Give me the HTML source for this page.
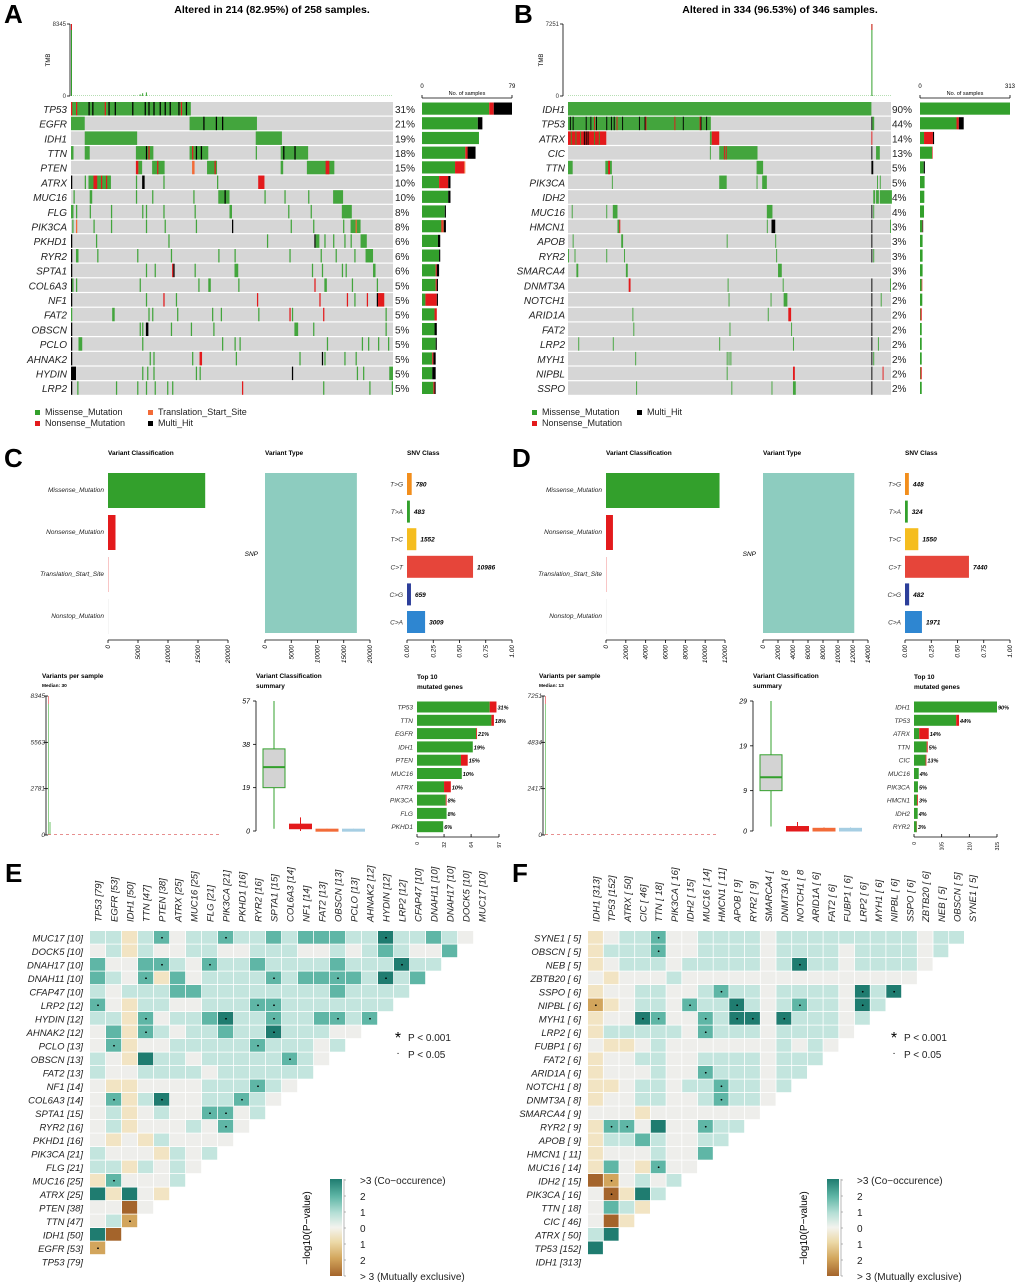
<!DOCTYPE html>
<html><head><meta charset="utf-8"><style>
html,body{margin:0;padding:0;background:#fff;}
svg{display:block;font-family:"Liberation Sans",sans-serif;}
</style></head><body>
<svg id="fig" xmlns="http://www.w3.org/2000/svg" width="1020" height="1286" viewBox="0 0 1020 1286"></svg>
<script>
// ================= DATA =================
const genesA=["TP53","EGFR","IDH1","TTN","PTEN","ATRX","MUC16","FLG","PIK3CA","PKHD1","RYR2","SPTA1","COL6A3","NF1","FAT2","OBSCN","PCLO","AHNAK2","HYDIN","LRP2"];
const pctA=["31%","21%","19%","18%","15%","10%","10%","8%","8%","6%","6%","6%","5%","5%","5%","5%","5%","5%","5%","5%"];
const countsA=[[59,4,16,0],[49,0,4,0],[50,0,0,0],[38,2,7,0],[29,8,0,1],[15,8,2,0],[23,0,2,0],[20,0,1,0],[17,1,2,1],[14,0,2,0],[15,0,1,0],[12,1,2,0],[12,1,1,0],[3,10,1,0],[11,2,0,0],[11,0,2,0],[12,0,1,0],[9,1,2,0],[9,0,3,0],[10,1,1,0]];
const segsA=[
[[0,95,"g"],[14,14,"k"],[17,17,"k"],[30,30,"k"],[35,35,"k"],[49,49,"k"],[59,59,"k"],[62,62,"k"],[66,66,"k"],[71,71,"k"],[75,75,"k"],[79,79,"k"],[86,86,"k"],[92,92,"k"],[0,0,"r"],[4,4,"r"],[27,27,"r"],[88,88,"r"]],
[[0,10,"g"],[95,148,"g"],[106,106,"k"],[116,116,"k"],[121,121,"k"]],
[[11,52,"g"],[148,168,"g"]],
[[0,1,"g"],[11,14,"g"],[52,65,"g"],[60,60,"k"],[62,62,"r"],[95,109,"g"],[97,97,"r"],[100,100,"k"],[104,104,"k"],[148,148,"g"],[168,189,"g"],[170,170,"k"],[179,179,"k"]],
[[52,53,"r"],[54,56,"g"],[65,74,"g"],[69,69,"r"],[97,98,"o"],[109,116,"g"],[115,115,"r"],[168,169,"g"],[189,210,"g"],[204,206,"r"]],
[[0,0,"k"],[11,11,"g"],[14,31,"g"],[18,20,"r"],[24,24,"r"],[28,28,"r"],[52,52,"g"],[57,58,"k"],[74,74,"g"],[117,117,"g"],[150,154,"r"]],
[[2,2,"g"],[15,16,"g"],[52,52,"g"],[65,65,"g"],[98,98,"g"],[118,126,"g"],[123,123,"k"],[155,155,"g"],[171,171,"g"],[190,190,"g"],[210,217,"g"]],
[[0,1,"g"],[4,4,"g"],[15,15,"g"],[32,32,"g"],[57,57,"g"],[60,60,"g"],[74,74,"g"],[99,99,"g"],[127,128,"g"],[174,174,"g"],[192,192,"g"],[217,224,"g"]],
[[1,1,"g"],[4,4,"o"],[18,18,"g"],[32,32,"g"],[60,60,"g"],[75,75,"g"],[100,100,"g"],[129,129,"k"],[176,176,"g"],[194,194,"g"],[218,218,"g"],[224,231,"g"],[228,228,"o"]],
[[0,0,"k"],[20,20,"g"],[78,78,"g"],[157,157,"g"],[195,195,"k"],[196,198,"g"],[203,203,"g"],[210,210,"g"],[219,219,"g"],[224,224,"g"],[232,236,"g"]],
[[0,0,"k"],[4,5,"g"],[21,21,"g"],[53,53,"g"],[80,80,"g"],[118,118,"g"],[131,131,"g"],[175,175,"g"],[200,200,"g"],[212,212,"g"],[227,227,"g"],[236,241,"g"]],
[[0,0,"k"],[60,60,"g"],[67,67,"g"],[81,81,"r"],[82,82,"k"],[99,99,"g"],[131,133,"g"],[193,193,"g"],[201,201,"g"],[217,217,"g"],[220,220,"g"],[242,243,"g"]],
[[0,0,"k"],[1,1,"g"],[4,4,"g"],[55,55,"g"],[102,102,"g"],[110,111,"g"],[134,134,"g"],[195,195,"r"],[203,204,"g"],[225,225,"g"],[245,245,"g"]],
[[0,0,"k"],[60,60,"g"],[74,74,"r"],[84,84,"g"],[149,149,"r"],[199,199,"r"],[221,221,"r"],[227,227,"g"],[237,237,"r"],[245,245,"k"],[246,250,"r"]],
[[0,0,"g"],[33,34,"g"],[62,62,"g"],[65,65,"g"],[85,85,"g"],[113,113,"g"],[120,120,"g"],[150,150,"g"],[175,175,"r"],[177,177,"g"],[202,202,"r"],[252,252,"g"]],
[[0,0,"k"],[55,55,"g"],[57,57,"g"],[60,61,"k"],[80,80,"g"],[96,96,"g"],[114,114,"g"],[179,181,"g"],[194,194,"g"],[252,252,"g"]],
[[0,0,"k"],[6,8,"g"],[57,57,"g"],[121,121,"g"],[131,131,"g"],[135,135,"g"],[205,205,"g"],[233,233,"g"],[238,238,"g"],[246,246,"g"],[254,254,"g"]],
[[0,0,"k"],[63,63,"g"],[66,66,"g"],[97,97,"g"],[103,104,"r"],[132,132,"g"],[183,183,"g"],[201,201,"k"],[203,203,"g"],[219,219,"g"],[228,228,"g"]],
[[0,3,"k"],[57,57,"g"],[61,61,"g"],[66,66,"g"],[100,100,"g"],[103,103,"g"],[177,177,"k"],[229,229,"g"],[234,234,"g"],[255,257,"g"]],
[[0,0,"k"],[5,5,"g"],[36,36,"g"],[53,53,"g"],[60,60,"g"],[67,67,"g"],[77,77,"g"],[81,81,"g"],[137,137,"r"],[202,202,"g"],[239,239,"g"],[257,257,"g"]]
];
const tmbA=[[0,8345],[50,60],[55,180],[57,320],[60,420]];
const genesB=["IDH1","TP53","ATRX","CIC","TTN","PIK3CA","IDH2","MUC16","HMCN1","APOB","RYR2","SMARCA4","DNMT3A","NOTCH1","ARID1A","FAT2","LRP2","MYH1","NIPBL","SSPO"];
const pctB=["90%","44%","14%","13%","5%","5%","4%","4%","3%","3%","3%","3%","2%","2%","2%","2%","2%","2%","2%","2%"];
const countsB=[[313,0,0,0],[127,8,17,0],[14,31,4,0],[42,2,0,0],[13,0,4,0],[16,0,0,0],[15,0,0,0],[14,0,0,0],[8,1,2,0],[9,0,0,0],[9,0,0,0],[9,0,0,0],[6,2,0,0],[8,0,0,0],[2,4,0,0],[6,0,0,0],[6,0,0,0],[6,0,0,0],[2,4,0,0],[6,0,0,0]];
const segsB=[
[[0,324,"g"]],
[[0,152,"g"],[2,2,"k"],[5,5,"k"],[19,19,"k"],[24,24,"k"],[30,30,"k"],[41,41,"k"],[46,46,"k"],[49,49,"k"],[58,58,"k"],[76,76,"k"],[82,82,"k"],[123,123,"k"],[142,142,"k"],[148,148,"k"],[28,28,"r"],[52,52,"r"],[83,83,"r"],[114,114,"r"],[141,141,"r"],[325,325,"k"],[326,327,"g"]],
[[0,40,"r"],[3,3,"g"],[8,8,"g"],[13,13,"g"],[17,17,"k"],[19,19,"k"],[21,21,"k"],[28,28,"g"],[33,33,"g"],[152,153,"g"],[154,161,"r"],[325,325,"r"]],
[[152,152,"g"],[162,202,"g"],[167,167,"r"],[169,169,"r"],[325,325,"k"],[330,333,"g"]],
[[0,4,"g"],[40,46,"g"],[43,44,"r"],[202,208,"g"],[325,326,"k"]],
[[47,47,"g"],[162,169,"g"],[202,202,"g"],[208,212,"g"],[331,331,"g"],[334,334,"g"]],
[[327,328,"g"],[330,332,"g"],[334,346,"g"]],
[[4,4,"g"],[41,41,"g"],[48,52,"g"],[213,218,"g"],[325,325,"k"],[327,327,"g"]],
[[53,54,"g"],[55,55,"r"],[213,213,"g"],[218,221,"k"],[325,325,"k"],[345,345,"g"]],
[[5,5,"g"],[57,58,"g"],[170,170,"g"],[222,222,"g"],[325,325,"k"]],
[[0,0,"g"],[7,7,"g"],[41,41,"g"],[60,60,"g"],[223,223,"g"],[325,325,"k"],[327,327,"g"]],
[[9,10,"g"],[62,63,"g"],[225,228,"g"]],
[[65,66,"r"],[171,171,"g"],[230,230,"g"],[325,325,"k"],[345,345,"g"]],
[[172,172,"g"],[217,217,"g"],[231,234,"g"],[325,325,"k"],[335,335,"g"]],
[[69,69,"g"],[214,214,"g"],[236,238,"r"],[325,325,"k"]],
[[70,70,"g"],[173,173,"g"],[239,239,"g"],[325,325,"k"]],
[[11,11,"g"],[48,48,"g"],[162,162,"g"],[241,241,"g"],[325,325,"k"],[332,332,"g"]],
[[72,72,"g"],[170,170,"g"],[172,172,"g"],[174,174,"g"],[325,325,"k"],[327,327,"g"]],
[[170,170,"g"],[241,242,"r"],[325,325,"k"],[337,337,"r"]],
[[73,73,"g"],[175,175,"g"],[218,218,"g"],[241,243,"g"],[325,325,"k"]]
];
const tmbB=[[325,7251],[326,40]];

const vcCats=["Missense_Mutation","Nonsense_Mutation","Translation_Start_Site","Nonstop_Mutation"];
const vcValsC=[16200,1250,60,0];
const vcValsD=[11450,700,40,0];
const vcTicksC=[0,5000,10000,15000,20000];
const vcTicksD=[0,2000,4000,6000,8000,10000,12000];
const vtValC=[17500];
const vtValD=[12170];
const vtTicksC=[0,5000,10000,15000,20000];
const vtTicksD=[0,2000,4000,6000,8000,10000,12000,14000];
const snvCats=["T>G","T>A","T>C","C>T","C>G","C>A"];
const snvValsC=[780,483,1552,10986,659,3009];
const snvValsD=[448,324,1550,7440,482,1971];
const snvTicks=["0.00","0.25","0.50","0.75","1.00"];
const vpsTicksC=[0,2781,5563,8345];
const vpsTicksD=[0,2417,4834,7251];
const boxC=[[1,19,28,36,57],[0,1,2,3,6],[0,0,0.3,0.8,1],[0,0,0.3,0.8,1]];
const boxD=[[1,9,12,17,29],[0,0,0.3,1,2],[0,0,0.2,0.6,0.8],[0,0,0.2,0.6,0.8]];
const boxTicksC=[0,19,38,57];
const boxTicksD=[0,9,19,29];
const top10C=["TP53","TTN","EGFR","IDH1","PTEN","MUC16","ATRX","PIK3CA","FLG","PKHD1"];
const top10GreenC=[86,88,70,66,52,53,32,34,35,31];
const top10RedC=[8,3,1,0,8,0,8,1,0,0];
const top10PctC=["31%","18%","21%","19%","15%","10%","10%","8%","8%","6%"];
const top10TicksC=[0,32,64,97];
const top10D=["IDH1","TP53","ATRX","TTN","CIC","MUC16","PIK3CA","HMCN1","IDH2","RYR2"];
const top10GreenD=[315,160,20,48,44,18,15,12,14,10];
const top10RedD=[0,11,36,4,3,0,0,3,0,1];
const top10PctD=["90%","44%","14%","5%","13%","4%","5%","3%","4%","3%"];
const top10TicksD=[0,105,210,315];

const rowsE=["MUC17 [10]","DOCK5 [10]","DNAH17 [10]","DNAH11 [10]","CFAP47 [10]","LRP2 [12]","HYDIN [12]","AHNAK2 [12]","PCLO [13]","OBSCN [13]","FAT2 [13]","NF1 [14]","COL6A3 [14]","SPTA1 [15]","RYR2 [16]","PKHD1 [16]","PIK3CA [21]","FLG [21]","MUC16 [25]","ATRX [25]","PTEN [38]","TTN [47]","IDH1 [50]","EGFR [53]","TP53 [79]"];
const colsE=["TP53 [79]","EGFR [53]","IDH1 [50]","TTN [47]","PTEN [38]","ATRX [25]","MUC16 [25]","FLG [21]","PIK3CA [21]","PKHD1 [16]","RYR2 [16]","SPTA1 [15]","COL6A3 [14]","NF1 [14]","FAT2 [13]","OBSCN [13]","PCLO [13]","AHNAK2 [12]","HYDIN [12]","LRP2 [12]","CFAP47 [10]","DNAH11 [10]","DNAH17 [10]","DOCK5 [10]","MUC17 [10]"];
const matE=[
"1,1,c,1,2*,0,1,1,2*,1,1,2,1,2,2,2,1,1,3*,1,1,2,1,0",
"0,1,c,1,0,0,1,1,0,0,1,1,1,0,0,1,0,1,2,1,0,0,2",
"2,0,0,2,2*,1,0,2*,1,1,2,1,1,1,1,2,1,1,1,3*,1,1",
"2,1,0,2*,c,2,0,1,1,1,1,2*,1,2,2,2*,2,1,3*,1,2",
"1,0,1,1,1,2,2,1,1,1,1,1,1,1,1,2,1,1,1,1",
"2*,0,c,1,1,0,0,1,1,1,2*,2*,1,1,1,1,1,1,1",
"1,1,c,2*,0,1,1,2,3*,1,1,2*,1,1,2,2*,1,2*",
"0,2,c,2*,1,0,1,1,2,1,1,3*,1,1,1,0,0",
"0,2*,c,0,0,1,1,1,1,1,2*,1,1,1,0,1",
"1,0,c,3,1,1,0,1,1,1,1,1,2*,1,0",
"1,0,0,1,1,1,1,0,1,1,1,1,1,1",
"0,c,c,0,0,0,0,1,1,1,2*,1,0",
"0,2*,c,1,3*,0,0,1,1,2*,1,0",
"0,1,c,0,1,0,0,2*,2*,0,1",
"0,1,c,0,0,0,1,0,2*,0",
"0,c,0,c,1,0,0,0,0",
"1,0,0,0,c,1,0,1",
"1,1,c,1,0,1,0",
"c,2*,0,0,0,1",
"3,c,3,0,c",
"0,0,a,0",
"0,1,b*",
"3,a",
"b*",
""];
const rowsF=["SYNE1 [  5]","OBSCN [  5]","NEB [  5]","ZBTB20 [  6]","SSPO [  6]","NIPBL [  6]","MYH1 [  6]","LRP2 [  6]","FUBP1 [  6]","FAT2 [  6]","ARID1A [  6]","NOTCH1 [  8]","DNMT3A [  8]","SMARCA4 [  9]","RYR2 [  9]","APOB [  9]","HMCN1 [ 11]","MUC16 [ 14]","IDH2 [ 15]","PIK3CA [ 16]","TTN [ 18]","CIC [ 46]","ATRX [ 50]","TP53 [152]","IDH1 [313]"];
const colsF=["IDH1 [313]","TP53 [152]","ATRX [ 50]","CIC [ 46]","TTN [ 18]","PIK3CA [ 16]","IDH2 [ 15]","MUC16 [ 14]","HMCN1 [ 11]","APOB [  9]","RYR2 [  9]","SMARCA4 [","DNMT3A [  8","NOTCH1 [  8","ARID1A [  6]","FAT2 [  6]","FUBP1 [  6]","LRP2 [  6]","MYH1 [  6]","NIPBL [  6]","SSPO [  6]","ZBTB20 [  6]","NEB [  5]","OBSCN [  5]","SYNE1 [  5]"];
const matF=[
"c,0,1,1,2*,0,0,1,1,1,1,0,1,1,1,1,1,1,1,1,1,0,1,1",
"c,1,1,1,2*,0,0,1,1,1,1,0,1,1,1,1,0,1,1,1,1,0,1",
"c,0,1,1,1,0,1,1,1,1,1,0,1,3*,1,1,0,1,1,1,1,0",
"0,c,0,0,0,1,0,0,0,0,0,0,0,0,0,0,0,0,0,0,0",
"c,0,0,1,1,0,0,1,2*,1,1,0,1,1,1,1,0,3*,1,3*",
"b*,c,0,1,1,0,2*,1,1,3*,1,0,1,2*,1,1,0,3*,1",
"c,0,0,3*,2*,0,0,2*,1,3*,3*,0,3*,1,1,1,0,1",
"c,1,1,1,1,1,0,2*,1,1,1,0,1,1,1,1,0",
"0,c,c,0,1,0,0,0,0,0,0,0,1,0,1,0",
"c,0,0,1,1,0,0,1,1,1,1,0,1,1,1",
"c,0,0,0,1,0,0,2*,1,1,1,0,1,1",
"c,c,0,1,1,0,1,1,2*,1,1,0,1",
"c,0,0,1,1,0,0,1,2*,1,1,0",
"0,0,0,c,0,0,0,0,0,0,0",
"c,2*,2*,0,3,0,0,2*,1,1",
"c,1,1,2,1,0,0,1,1",
"c,0,0,0,1,0,0,2",
"c,2,0,c,2*,0,0",
"a,b*,0,1,0,1",
"0,a*,c,3,1",
"0,2,1,c",
"0,a,c",
"1,3",
"3",
""];

// ================= DRAWING =================
const NS="http://www.w3.org/2000/svg";
const svg=document.getElementById('fig');
function mk(tag,attrs,parent){const e=document.createElementNS(NS,tag);for(const k in attrs)e.setAttribute(k,attrs[k]);(parent||svg).appendChild(e);return e;}
function tx(x,y,s,size,extra,parent){const e=mk('text',Object.assign({x:x,y:y,'font-size':size,fill:'#000'},extra||{}),parent);e.textContent=s;return e;}
const MUTC={g:'#33a02c',r:'#e31a1c',k:'#000000',o:'#f26b38'};

function panelLetter(x,y,l){
  const t=tx(x,y,l,26,{'font-weight':'bold'});
  
  
}

function oncoplot(c,genes,pcts,segs,counts,tmb,tmbMax,nS,barMax,title){
  const g=mk('g',{});
  
  
  const t=tx(c.titleX,13,title,10.5,{'font-weight':'bold','text-anchor':'middle'},g);
  
  
  const sw=(c.gx1-c.gx0)/nS;
  mk('line',{x1:c.axX,y1:c.tmbTop,x2:c.axX,y2:c.tmbBot,stroke:'#000','stroke-width':0.8},g);
  mk('line',{x1:c.axX-3,y1:c.tmbTop,x2:c.axX,y2:c.tmbTop,stroke:'#000','stroke-width':0.8},g);
  mk('line',{x1:c.axX-3,y1:c.tmbBot,x2:c.axX,y2:c.tmbBot,stroke:'#000','stroke-width':0.8},g);
  tx(c.axX-4,c.tmbTop+2,String(tmbMax),6,{'text-anchor':'end',fill:'#333'},g);
  tx(c.axX-4,c.tmbBot+2,'0',6,{'text-anchor':'end',fill:'#333'},g);
  const tl=tx(c.axX-20,(c.tmbTop+c.tmbBot)/2,'TMB',6,{'text-anchor':'middle',transform:'rotate(-90 '+(c.axX-20)+' '+((c.tmbTop+c.tmbBot)/2)+')'},g);
  
  
  mk('line',{x1:c.gx0,y1:c.tmbBot-0.5,x2:c.gx1,y2:c.tmbBot-0.5,stroke:'#9fd39a','stroke-width':0.8,'stroke-dasharray':'1,1'},g);
  const ts=(c.tmbBot-c.tmbTop)/tmbMax;
  tmb.forEach(function(p){
    const h=p[1]*ts;
    const b=mk('rect',{x:c.gx0+p[0]*sw,y:c.tmbBot-h,width:Math.max(sw*0.8,1),height:h,fill:'#33a02c'},g);
    
    
    if(p[1]>tmbMax*0.5){mk('rect',{x:c.gx0+p[0]*sw,y:c.tmbBot-h,width:Math.max(sw*0.8,1),height:6,fill:'#e31a1c'},g);}
  });
  const bs=(c.bx1-c.bx0)/barMax;
  genes.forEach(function(gn,i){
    const y=c.gy0+i*c.rh;
    const bg=mk('rect',{x:c.gx0,y:y,width:c.gx1-c.gx0,height:c.rh-1.2,fill:'#d6d6d6'},g);
    
    
    segs[i].forEach(function(s){
      const r=mk('rect',{x:c.gx0+s[0]*sw,y:y,width:(s[1]-s[0]+1)*sw,height:c.rh-1.2,fill:MUTC[s[2]],opacity:s[2]==='g'?0.9:1},g);
      
      
    });
    const lb=tx(c.lblX,y+c.rh/2+3.5,gn,10,{'text-anchor':'end','font-style':'italic',fill:'#222'},g);
    
    
    const pt=tx(c.pctX,y+c.rh/2+3.5,pcts[i],10,{fill:'#222'},g);
    
    
    let x=c.bx0;
    const order=[0,1,3,2];const cols=['#33a02c','#e31a1c','#000','#f26b38'];
    order.forEach(function(k){
      const w=counts[i][k]*bs;
      if(w>0){
        const br=mk('rect',{x:x,y:y+0.5,width:w,height:c.rh-2.5,fill:k===3?'#f26b38':cols[k]},g);
        
        
        x+=w;
      }
    });
  });
  mk('line',{x1:c.bx0,y1:c.gy0-4,x2:c.bx1,y2:c.gy0-4,stroke:'#000','stroke-width':0.8},g);
  mk('line',{x1:c.bx0,y1:c.gy0-4,x2:c.bx0,y2:c.gy0-7,stroke:'#000','stroke-width':0.8},g);
  mk('line',{x1:c.bx1,y1:c.gy0-4,x2:c.bx1,y2:c.gy0-7,stroke:'#000','stroke-width':0.8},g);
  tx(c.bx0,c.gy0-14,'0',6,{'text-anchor':'middle'},g);
  tx(c.bx1,c.gy0-14,String(barMax),6,{'text-anchor':'middle'},g);
  const nt=tx((c.bx0+c.bx1)/2,c.gy0-7,'No. of samples',5.5,{'text-anchor':'middle'},g);
  
  
}

panelLetter(4,23,'A');
panelLetter(514,23,'B');
oncoplot({id:'a',titleX:272,gx0:71,gx1:393,gy0:102,rh:14.7,lblX:67,pctX:395,bx0:422,bx1:512,axX:70,tmbTop:24,tmbBot:96},genesA,pctA,segsA,countsA,tmbA,8345,258,79,'Altered in 214 (82.95%) of 258 samples.');
oncoplot({id:'b',titleX:780,gx0:568,gx1:891,gy0:102,rh:14.7,lblX:565,pctX:892,bx0:920,bx1:1010,axX:563,tmbTop:24,tmbBot:96},genesB,pctB,segsB,countsB,tmbB,7251,346,313,'Altered in 334 (96.53%) of 346 samples.');

function legend(x,y,items){
  items.forEach(function(it){
    const s=mk('rect',{x:it[0],y:it[1]-5,width:5,height:5,fill:it[3]});
    
    
    const t=tx(it[0]+10,it[1],it[2],9,{fill:'#222'});
    
    
  });
}
legend(0,0,[[35,415,'Missense_Mutation','#33a02c'],[35,426,'Nonsense_Mutation','#e31a1c'],[148,415,'Translation_Start_Site','#f26b38'],[148,426,'Multi_Hit','#000']]);
legend(0,0,[[532,415,'Missense_Mutation','#33a02c'],[532,426,'Nonsense_Mutation','#e31a1c'],[637,415,'Multi_Hit','#000']]);

function vAxisTicks(g,x0,x1,y,ticks,max,labels){
  mk('line',{x1:x0,y1:y,x2:x1,y2:y,stroke:'#000','stroke-width':0.8},g);
  ticks.forEach(function(v,i){
    const x=x0+(v/max)*(x1-x0);
    mk('line',{x1:x,y1:y,x2:x,y2:y+3,stroke:'#000','stroke-width':0.8},g);
    const s=labels?labels[i]:String(v);
    tx(x+2,y+5,s,6.5,{'text-anchor':'end','font-style':'italic',transform:'rotate(-90 '+(x+2)+' '+(y+5)+')'},g);
  });
}
function summary(c,vcVals,vcTicks,vcMax,vtVal,vtTicks,vtMax,snvVals,vpsTicks,box,boxTicks,t10,t10g,t10r,t10p,t10Ticks,median){
  const g=mk('g',{});
  
  
  tx(c.vcX,455,'Variant Classification',6.5,{'font-weight':'bold'},g);
  const vcW=c.vcX1-c.vcX;
  vcCats.forEach(function(cat,i){
    const cy=490+i*42;
    const w=vcVals[i]/vcMax*vcW;
    const cols=['#33a02c','#e31a1c','#f4a0a0','#eeeeee'];
    const r=mk('rect',{x:c.vcX,y:cy-17,width:Math.max(w,0.6),height:35,fill:cols[i]},g);
    
    
    tx(c.vcX-4,cy+2,cat,6.5,{'text-anchor':'end','font-style':'italic',fill:'#222'},g);
  });
  vAxisTicks(g,c.vcX,c.vcX1,640,vcTicks,vcMax);
  tx(c.vtX,455,'Variant Type',6.5,{'font-weight':'bold'},g);
  const vtW=c.vtX1-c.vtX;
  const vr=mk('rect',{x:c.vtX,y:473,width:vtVal[0]/vtMax*vtW,height:160,fill:'#8dccbf'},g);
  
  
  tx(c.vtX-7,556,'SNP',6.5,{'text-anchor':'end','font-style':'italic'},g);
  vAxisTicks(g,c.vtX,c.vtX1,640,vtTicks,vtMax);
  tx(c.snX,455,'SNV Class',6.5,{'font-weight':'bold'},g);
  const tot=snvVals.reduce(function(a,b){return a+b;},0);
  const sc=['#f28e1c','#33a02c','#f5bd1f','#e6453a','#2c3e9a','#2e86d1'];
  snvCats.forEach(function(cat,i){
    const cy=484+i*27.6;const w=snvVals[i]/tot*(c.snX1-c.snX);
    const r=mk('rect',{x:c.snX,y:cy-11,width:w,height:22,fill:sc[i]},g);
    
    
    tx(c.snX-4,cy+2.5,cat,6.5,{'text-anchor':'end','font-style':'italic',fill:'#333'},g);
    tx(c.snX+w+4,cy+2.5,String(snvVals[i]),6.5,{'font-style':'italic','font-weight':'bold'},g);
  });
  vAxisTicks(g,c.snX,c.snX1,640,[0,0.25,0.5,0.75,1],1,snvTicks);
  tx(c.vpX-4,678,'Variants per sample',6.5,{'font-weight':'bold'},g);
  tx(c.vpX-4,687,'Median: '+median,4.8,{'font-weight':'bold'},g);
  const vmax=vpsTicks[vpsTicks.length-1];
  mk('line',{x1:c.vpX,y1:696,x2:c.vpX,y2:835,stroke:'#000','stroke-width':0.8},g);
  vpsTicks.forEach(function(v){
    const y=835-v/vmax*139;
    mk('line',{x1:c.vpX-2,y1:y,x2:c.vpX+2,y2:y,stroke:'#000','stroke-width':0.8},g);
    tx(c.vpX-1,y+2,String(v),6.5,{'text-anchor':'end','font-style':'italic',fill:'#333'},g);
  });
  const sp=mk('rect',{x:c.vpX+2,y:697,width:1,height:138,fill:'#8fd08a'},g);
  
  
  mk('rect',{x:c.vpX+2,y:696,width:1,height:8,fill:'#f08a8a'},g);
  if(c.id==='c'){mk('rect',{x:c.vpX+3.5,y:822,width:1,height:13,fill:'#6cc067'},g);}
  mk('line',{x1:c.vpX+2,y1:834.5,x2:c.vpX+175,y2:834.5,stroke:'#e06b6b','stroke-width':0.8,'stroke-dasharray':'3,3'},g);
  tx(c.bxX,678,'Variant Classification',6.5,{'font-weight':'bold'},g);
  tx(c.bxX,688,'summary',6.5,{'font-weight':'bold'},g);
  const bmax=boxTicks[boxTicks.length-1];
  const by=function(v){return 831-v/bmax*130;};
  mk('line',{x1:c.bxX,y1:701,x2:c.bxX,y2:831,stroke:'#000','stroke-width':0.8},g);
  boxTicks.forEach(function(v){
    mk('line',{x1:c.bxX-3,y1:by(v),x2:c.bxX,y2:by(v),stroke:'#000','stroke-width':0.8},g);
    tx(c.bxX-6,by(v)+2.5,String(v),7,{'text-anchor':'end','font-style':'italic'},g);
  });
  const bc=[['#d3d3d3','#33a02c'],['#e31a1c','#e31a1c'],['#f26b38','#f26b38'],['#a6cee3','#a6cee3']];
  box.forEach(function(b,i){
    const x=c.bxX+7+i*26.5;
    mk('line',{x1:x+11,y1:by(b[0]),x2:x+11,y2:by(b[4]),stroke:bc[i][1],'stroke-width':1},g);
    const r=mk('rect',{x:x,y:by(b[3]),width:22,height:Math.max(by(b[1])-by(b[3]),2),fill:bc[i][0],stroke:bc[i][1],'stroke-width':1},g);
    
    
    mk('line',{x1:x,y1:by(b[2]),x2:x+22,y2:by(b[2]),stroke:bc[i][1],'stroke-width':2},g);
  });
  tx(c.t10X,679,'Top 10',6.5,{'font-weight':'bold'},g);
  tx(c.t10X,689,'mutated genes',6.5,{'font-weight':'bold'},g);
  const tmax=t10Ticks[t10Ticks.length-1];const tw=c.t10X1-c.t10X;
  t10.forEach(function(gn,i){
    const cy=707+i*13.3;
    const wg=t10g[i]/tmax*tw,wr=t10r[i]/tmax*tw;
    const r=mk('rect',{x:c.t10X,y:cy-5.5,width:wg,height:11,fill:'#33a02c'},g);
    
    
    if(wr>0)mk('rect',{x:c.t10X+wg,y:cy-5.5,width:wr,height:11,fill:'#e31a1c'},g);
    tx(c.t10X-4,cy+2.5,gn,6.5,{'text-anchor':'end','font-style':'italic',fill:'#333'},g);
    tx(c.t10X+wg+wr+1,cy+2.5,t10p[i],5.5,{'font-style':'italic','font-weight':'bold'},g);
  });
  mk('line',{x1:c.t10X,y1:837,x2:c.t10X1,y2:837,stroke:'#000','stroke-width':0.8},g);
  t10Ticks.forEach(function(v){
    const x=c.t10X+v/tmax*tw;
    mk('line',{x1:x,y1:834,x2:x,y2:837,stroke:'#000','stroke-width':0.8},g);
    tx(x+2,842,String(v),5,{'text-anchor':'end',transform:'rotate(-90 '+(x+2)+' 842)'},g);
  });
}
panelLetter(4,467,'C');
panelLetter(512,467,'D');
summary({id:'c',vcX:108,vcX1:228,vtX:265,vtX1:370,snX:407,snX1:512,vpX:46,bxX:256,t10X:417,t10X1:499},vcValsC,vcTicksC,20000,vtValC,vtTicksC,20000,snvValsC,vpsTicksC,boxC,boxTicksC,top10C,top10GreenC,top10RedC,top10PctC,top10TicksC,30);
summary({id:'d',vcX:606,vcX1:725,vtX:763,vtX1:868,snX:905,snX1:1010,vpX:543,bxX:753,t10X:914,t10X1:997},vcValsD,vcTicksD,12000,vtValD,vtTicksD,14000,snvValsD,vpsTicksD,boxD,boxTicksD,top10D,top10GreenD,top10RedD,top10PctD,top10TicksD,13);

const HC={a:'#a4642b',b:'#d2a55c',c:'#f2e4c3','0':'#eeeeeb','1':'#c3e5de','2':'#5fb6a6','3':'#1f7c70'};
function heat(c,rows,cols,mat){
  const g=mk('g',{});
  
  
  rows.forEach(function(rn,i){
    const y=c.y0+i*c.ch;
    const rl=tx(c.lblX,y+c.ch/2+3.5,rn,9.5,{'text-anchor':'end','font-style':'italic',fill:'#222'},g);
    
    
    if(!mat[i])return;
    mat[i].split(',').forEach(function(tok,j){
      const lv=tok.charAt(0);
      const x=c.x0+j*c.cw;
      const r=mk('rect',{x:x,y:y,width:c.cw-0.8,height:c.ch-0.8,fill:HC[lv]},g);
      
      
      if(tok.indexOf('*')>=0){mk('circle',{cx:x+c.cw/2,cy:y+c.ch/2,r:0.9,fill:'#000'},g);}
    });
  });
  cols.forEach(function(cn,j){
    const x=c.x0+j*c.cw+c.cw/2+3.5;
    const cl=tx(x,c.y0-9,cn,9.5,{'font-style':'italic',fill:'#222',transform:'rotate(-90 '+x+' '+(c.y0-9)+')'},g);
    
    
  });
  tx(c.pX,1043,'*',16,{'text-anchor':'middle'},g);
  tx(c.pX+10,1041,'P < 0.001',10,{fill:'#222'},g);
  tx(c.pX,1056,'·',10,{'text-anchor':'middle'},g);
  tx(c.pX+10,1058,'P < 0.05',10,{fill:'#222'},g);
  const gid='grad'+c.id;
  const defs=mk('defs',{},g);
  const lg=mk('linearGradient',{id:gid,x1:0,y1:0,x2:0,y2:1},defs);
  [['0','#1f7c70'],['0.18','#5fb6a6'],['0.35','#b5dfd6'],['0.5','#f3f3ee'],['0.65','#ecd9a8'],['0.82','#d2a55c'],['1','#a4642b']].forEach(function(s){mk('stop',{offset:s[0],'stop-color':s[1]},lg);});
  const cb=mk('rect',{x:c.cbX,y:1179,width:12,height:97,fill:'url(#'+gid+')'},g);
  
  
  const lab=['>3 (Co\u2212occurence)','2','1','0','1','2','> 3 (Mutually exclusive)'];
  lab.forEach(function(s,k){
    const y=1180+k*16;
    mk('line',{x1:c.cbX+14,y1:y,x2:c.cbX+16,y2:y,stroke:'#888','stroke-width':0.6},g);
    tx(c.cbX+c.lo,y+4,s,10,{fill:'#222'},g);
  });
  mk('line',{x1:c.cbX+14,y1:1179,x2:c.cbX+14,y2:1276,stroke:'#888','stroke-width':0.6},g);
  const yl=tx(c.cbX-20,1228,'\u2212log10(P\u2212value)',10,{'text-anchor':'middle',transform:'rotate(-90 '+(c.cbX-20)+' 1228)'},g);
  
  
}
panelLetter(5,882,'E');
panelLetter(512,882,'F');
heat({id:'e',x0:90,y0:931,cw:16,ch:13.5,lblX:83,pX:398,cbX:330,lo:30},rowsE,colsE,matE);
heat({id:'f',x0:588,y0:931,cw:15.7,ch:13.5,lblX:581,pX:894,cbX:827,lo:30},rowsF,colsF,matF);
</script>
</body></html>
